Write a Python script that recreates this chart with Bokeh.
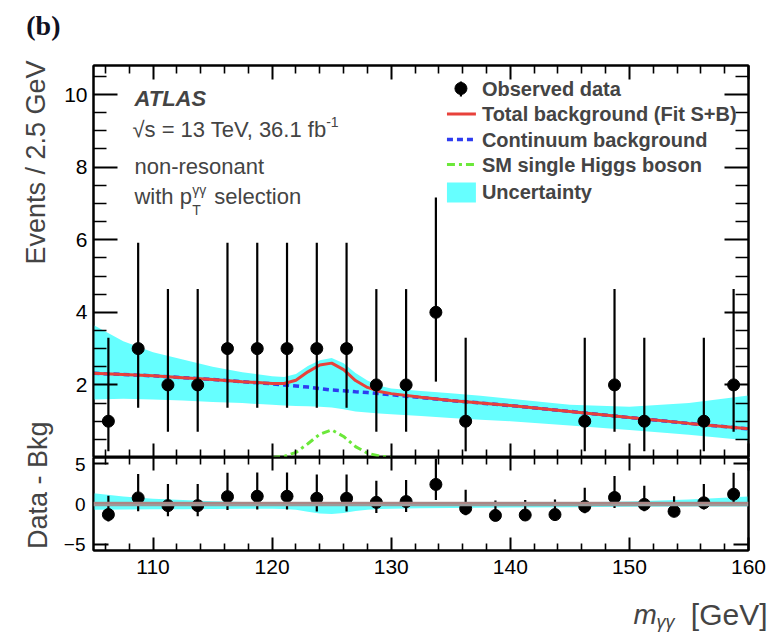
import numpy as np
from bokeh.plotting import figure
from bokeh.models import Range1d, FixedTicker, LinearAxis, Label, Span
from bokeh.layouts import column, row
from bokeh.embed import file_html
from bokeh.resources import INLINE

FONT = "Liberation Sans"

# ---------------- data ----------------
bin_centers = [106.25, 108.75, 111.25, 113.75, 116.25, 118.75, 121.25, 123.75,
               126.25, 128.75, 131.25, 133.75, 136.25, 138.75, 141.25, 143.75,
               146.25, 148.75, 151.25, 153.75, 156.25, 158.75]
counts = [1, 3, 2, 2, 3, 3, 3, 3, 3, 2, 2, 4, 1, 0, 0, 0, 1, 2, 1, 0, 1, 2]
err_lo = [0.83, 1.63, 1.29, 1.29, 1.63, 1.63, 1.63, 1.63, 1.63, 1.29, 1.29, 1.91,
          0.83, 0.0, 0.0, 0.0, 0.83, 1.29, 0.83, 0.0, 0.83, 1.29]
err_hi = [2.30, 2.92, 2.64, 2.64, 2.92, 2.92, 2.92, 2.92, 2.92, 2.64, 2.64, 3.16,
          2.30, 1.84, 1.84, 1.84, 2.30, 2.64, 2.30, 1.84, 2.30, 2.64]
residuals = [-1.3, 0.75, -0.2, -0.2, 0.9, 0.95, 0.95, 0.7, 0.7, 0.2, 0.3, 2.4,
             -0.55, -1.4, -1.35, -1.3, -0.3, 0.8, -0.05, -0.9, 0.15, 1.2]

curve_x = [105, 107.5, 110, 112.5, 115, 117.5, 120, 121, 122, 123, 124, 125, 126,
           127, 128, 129, 130, 132.5, 135, 137.5, 140, 145, 150, 155, 160]
total_bkg = [2.32, 2.29, 2.25, 2.20, 2.15, 2.09, 2.04, 2.04, 2.13, 2.36, 2.55, 2.60,
             2.42, 2.12, 1.93, 1.82, 1.76, 1.66, 1.57, 1.50, 1.43, 1.27, 1.10, 0.94, 0.79]
continuum = [2.32, 2.29, 2.25, 2.20, 2.15, 2.09, 2.03, 2.00, 1.97, 1.94, 1.90, 1.86,
             1.84, 1.81, 1.79, 1.76, 1.73, 1.65, 1.57, 1.50, 1.43, 1.27, 1.10, 0.94, 0.79]
band_hi = [3.65, 3.20, 2.90, 2.70, 2.50, 2.35, 2.24, 2.22, 2.30, 2.52, 2.68, 2.74,
           2.60, 2.33, 2.12, 1.98, 1.90, 1.83, 1.77, 1.70, 1.62, 1.45, 1.40, 1.50, 1.71]
band_lo = [1.60, 1.62, 1.60, 1.57, 1.53, 1.50, 1.45, 1.43, 1.42, 1.41, 1.40, 1.38,
           1.33, 1.27, 1.24, 1.21, 1.19, 1.14, 1.09, 1.04, 1.00, 0.88, 0.76, 0.63, 0.47]

higgs_x = [120, 121, 122, 123, 124, 125, 126, 127, 128, 129, 130]
higgs = [0.0, 0.03, 0.14, 0.38, 0.64, 0.76, 0.58, 0.30, 0.12, 0.04, 0.01]

x_major = [110, 120, 130, 140, 150, 160]
x_minor = [106, 108, 112, 114, 116, 118, 122, 124, 126, 128, 132, 134, 136, 138,
           142, 144, 146, 148, 152, 154, 156, 158]
y_major_top = [2, 4, 6, 8, 10]
y_minor_top = [0.5, 1, 1.5, 2.5, 3, 3.5, 4.5, 5, 5.5, 6.5, 7, 7.5, 8.5, 9, 9.5, 10.5]
y_major_low = [-5, 0, 5]

# ---------------- geometry ----------------
W, H = 775, 632
LW = 60                    # width of the left title strip
FL, FR = 92, 748           # frame x (page px)
FT, FB = 65, 457           # upper frame y
LT, LB = 457, 550          # lower frame y
LOW_BOTTOM = 590           # bottom of the lower figure canvas
X0, X1 = 105, 160
Y0, Y1 = 0, 10.8
R0, R1 = -5.7, 5.7

def xd(px):
    return X0 + (px - FL) * (X1 - X0) / (FR - FL)

def yt(py):
    return Y1 - (py - FT) * (Y1 - Y0) / (FB - FT)

CYAN = "#66ffff"
RED = "#e8413b"
BLUE = "#2e3cf0"
GREEN = "#6be83a"

def style_fig(p):
    p.outline_line_color = "black"
    p.outline_line_width = 2
    p.background_fill_color = "white"
    p.border_fill_color = "white"
    p.grid.visible = False

def add_axis(p, side, ticks, minor, major_in, minor_in, labels, standoff=8,
             overrides=None, size="21px"):
    ax = LinearAxis(ticker=FixedTicker(ticks=ticks, minor_ticks=minor))
    ax.major_tick_in = major_in
    ax.major_tick_out = 0
    ax.minor_tick_in = minor_in
    ax.minor_tick_out = 0
    ax.axis_line_width = 2
    ax.axis_line_color = "black"
    ax.major_tick_line_width = 2
    ax.minor_tick_line_width = 1.6
    ax.major_tick_line_color = "black"
    ax.minor_tick_line_color = "black"
    if labels:
        ax.major_label_text_font = FONT
        ax.major_label_text_font_size = size
        ax.major_label_text_color = "black"
        ax.major_label_standoff = standoff
        if overrides:
            ax.major_label_overrides = overrides
    else:
        ax.major_label_overrides = {t: "" for t in ticks}
        ax.major_label_text_font_size = "1px"
        ax.major_label_standoff = 0
    p.add_layout(ax, side)

# ---------------- upper panel ----------------
top = figure(width=W - LW, height=FB, x_range=Range1d(X0, X1), y_range=Range1d(Y0, Y1),
             output_backend="svg", toolbar_location=None,
             x_axis_location=None, y_axis_location=None,
             min_border_left=FL - LW, min_border_right=W - FR,
             min_border_top=FT, min_border_bottom=0)
style_fig(top)
add_axis(top, "left", y_major_top, y_minor_top, 24, 13, True, standoff=6)
add_axis(top, "right", y_major_top, y_minor_top, 24, 13, False)
add_axis(top, "above", x_major, x_minor, 14, 8, False)
add_axis(top, "below", x_major, x_minor, 14, 8, False)

top.varea(x=curve_x, y1=band_lo, y2=band_hi, fill_color=CYAN)
top.line(higgs_x, higgs, line_color=GREEN, line_width=3, line_dash="8 4 3 4")
top.line(curve_x, continuum, line_color=BLUE, line_width=3.5, line_dash="6 4")
top.line(curve_x, total_bkg, line_color=RED, line_width=3)

bc = np.array(bin_centers)
cnt = np.array(counts, dtype=float)
elo = np.array(err_lo)
ehi = np.array(err_hi)
nz = cnt > 0
top.segment(x0=bc[nz], y0=(cnt - elo)[nz], x1=bc[nz], y1=(cnt + ehi)[nz],
            line_color="black", line_width=2.2)
top.scatter(bc[nz], cnt[nz], size=12, color="black")

# text block
def tlabel(px, py, text, size="22px", style="normal", **kw):
    top.add_layout(Label(x=xd(px), y=yt(py), text=text, text_font=FONT,
                         text_font_size=size, text_font_style=style,
                         text_baseline=kw.pop("baseline", "alphabetic"), **kw))

tlabel(133, 98, "ATLAS", style="bold italic")
tlabel(131, 129, "\u221as = 13 TeV, 36.1 fb")
tlabel(325, 121, "-1", size="14px")
tlabel(133, 166, "non-resonant")
tlabel(133, 196, "with p")
tlabel(191, 209, "T", size="14px")
tlabel(191, 189, "\u03b3\u03b3", size="14px")
tlabel(213, 196, "selection")

# legend (drawn by hand, ROOT style)
lx0, lx1, lxm, ltx = 446, 475, 460, 481
rows_y = [88, 113.5, 139, 164, 191]
top.segment(x0=[xd(lxm)], y0=[yt(81)], x1=[xd(lxm)], y1=[yt(96)],
            line_color="black", line_width=2.2)
top.scatter([xd(lxm)], [yt(rows_y[0])], size=12, color="black")
top.line([xd(lx0), xd(lx1)], [yt(rows_y[1])] * 2, line_color=RED, line_width=3)
top.line([xd(lx0), xd(lx1)], [yt(rows_y[2])] * 2, line_color=BLUE, line_width=3.5,
         line_dash="6 4")
top.line([xd(lx0), xd(lx1)], [yt(rows_y[3])] * 2, line_color=GREEN, line_width=3,
         line_dash="8 4 3 4")
top.quad(left=[xd(lx0)], right=[xd(lx1)], bottom=[yt(202)], top=[yt(182)],
         fill_color=CYAN, line_color=None)
legend_texts = ["Observed data", "Total background (Fit S+B)", "Continuum background",
                "SM single Higgs boson", "Uncertainty"]
for t, ry in zip(legend_texts, rows_y):
    tlabel(ltx, ry, t, size="20px", style="bold", baseline="middle")

# ---------------- lower panel ----------------
low = figure(width=W - LW, height=LOW_BOTTOM - LT, x_range=Range1d(X0, X1),
             y_range=Range1d(R0, R1),
             output_backend="svg", toolbar_location=None,
             x_axis_location=None, y_axis_location=None,
             min_border_left=FL - LW, min_border_right=W - FR,
             min_border_top=0, min_border_bottom=LOW_BOTTOM - LB)
style_fig(low)
add_axis(low, "left", y_major_low, [], 15, 0, True, standoff=8,
         overrides={-5: "\u22125"}, size="19px")
add_axis(low, "right", y_major_low, [], 15, 0, False)
add_axis(low, "above", x_major, x_minor, 13, 7, False)
add_axis(low, "below", x_major, x_minor, 13, 7, True, standoff=9)

tb = np.array(total_bkg)
low.varea(x=curve_x, y1=np.array(band_lo) - tb, y2=np.array(band_hi) - tb,
          fill_color=CYAN)
low.add_layout(Span(location=0, dimension="width", line_color="#9a9a9a", line_width=4.5))
low.add_layout(Span(location=0.12, dimension="width", line_color=RED, line_width=1.2,
                    line_alpha=0.45))
res = np.array(residuals)
low.segment(x0=bc, y0=res - elo, x1=bc, y1=res + ehi, line_color="black", line_width=2.2)
low.scatter(bc, res, size=12, color="black")

# ---------------- left title strip ----------------
strip = figure(width=LW, height=LOW_BOTTOM, x_range=Range1d(0, LW),
               y_range=Range1d(0, LOW_BOTTOM),
               output_backend="svg", toolbar_location=None,
               x_axis_location=None, y_axis_location=None,
               min_border=0)
strip.outline_line_color = None
strip.grid.visible = False
strip.add_layout(Label(x=60, y=LOW_BOTTOM - 25, text="(b)", text_font="Liberation Serif",
                       text_font_size="28px", text_font_style="bold",
                       text_align="right", text_baseline="alphabetic",
                       text_color="#111122"))
strip.add_layout(Label(x=35, y=LOW_BOTTOM - 60, text="Events / 2.5 GeV", text_font=FONT,
                       text_font_size="27px", angle=90, angle_units="deg",
                       text_align="right", text_baseline="middle"))
strip.add_layout(Label(x=37, y=LOW_BOTTOM - 421, text="Data - Bkg", text_font=FONT,
                       text_font_size="27px", angle=90, angle_units="deg",
                       text_align="right", text_baseline="middle"))

# ---------------- x-title strip (full width, below everything) ----------------
XS_H = H - LOW_BOTTOM
xstrip = figure(width=W, height=XS_H, x_range=Range1d(0, W), y_range=Range1d(0, XS_H),
                output_backend="svg", toolbar_location=None,
                x_axis_location=None, y_axis_location=None, min_border=0)
xstrip.outline_line_color = None
xstrip.grid.visible = False
xstrip.add_layout(Label(x=633, y=H - 614, text="m", text_font=FONT,
                        text_font_size="28px", text_font_style="italic",
                        text_baseline="alphabetic"))
xstrip.add_layout(Label(x=656, y=H - 621, text="\u03b3\u03b3", text_font=FONT,
                        text_font_size="18px", text_font_style="italic",
                        text_baseline="alphabetic"))
xstrip.add_layout(Label(x=767, y=H - 614, text="[GeV]", text_font=FONT,
                        text_font_size="30px", text_align="right",
                        text_baseline="alphabetic"))

layout = column(row(strip, column(top, low, spacing=0), spacing=0), xstrip, spacing=0)
open("out.html", "w").write(file_html(layout, INLINE))
